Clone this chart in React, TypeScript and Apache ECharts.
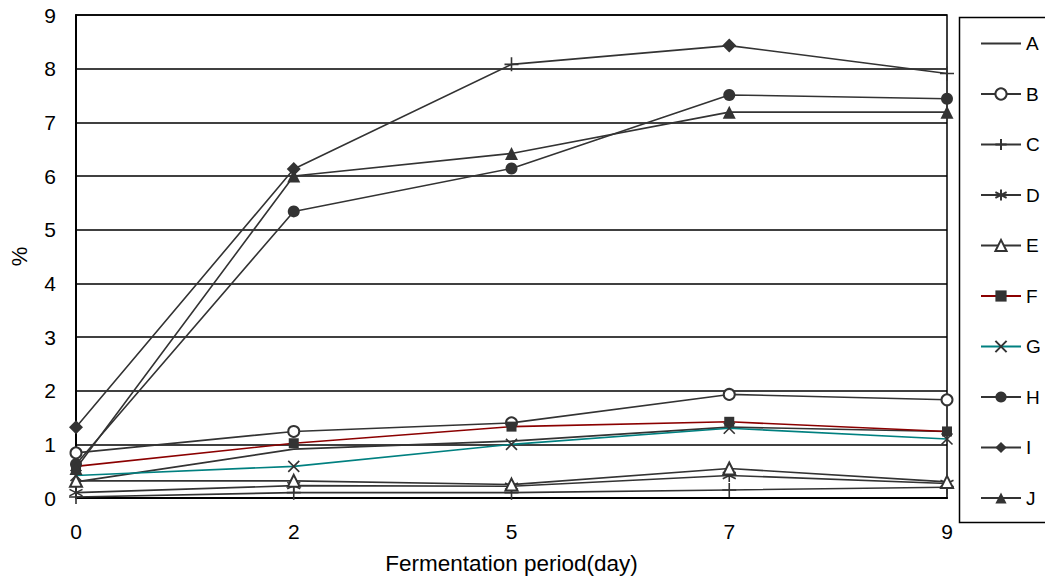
import React, { useEffect, useRef } from "react";
import * as echarts from "echarts";

const days = ["0", "2", "5", "7", "9"];
const seriesNames = ["A", "B", "C", "D", "E", "F", "G", "H", "I", "J"];
const aVals = [0.3, 0.91, 1.06, 1.32, 1.24];
const bVals = [0.84, 1.24, 1.4, 1.93, 1.83];
const cVals = [0.02, 0.1, 0.1, 0.15, 0.2];
const dVals = [0.1, 0.23, 0.22, 0.42, 0.27];
const eVals = [0.32, 0.32, 0.25, 0.55, 0.3];
const fVals = [0.59, 1.02, 1.33, 1.42, 1.24];
const gVals = [0.42, 0.59, 1.0, 1.3, 1.1];
const hVals = [0.63, 5.34, 6.14, 7.51, 7.44];
const iVals = [1.32, 6.13, 8.08, 8.43, 7.91];
const jVals = [0.55, 6.0, 6.42, 7.19, 7.19];
const yTicks = [0, 1, 2, 3, 4, 5, 6, 7, 8, 9];

const PLUS = "path://M5,0L5,10M0,5L10,5";
const STAR = "path://M5,0L5,10M0.7,2.5L9.3,7.5M0.7,7.5L9.3,2.5";
const CROSS = "path://M0,0L10,10M0,10L10,0";

const DARK = "#333333";

export default function App() {
  const ref = useRef<HTMLDivElement>(null);
  useEffect(() => {
    if (!ref.current) return;
    const chart = echarts.init(ref.current, null, { renderer: "svg" });
    const font = "Liberation Sans, Arial, sans-serif";

    const mk = (
      name: string,
      data: any[],
      symbol: string,
      size: number,
      opts: any = {}
    ) => ({
      name,
      type: "line",
      data,
      symbol,
      symbolSize: size,
      showSymbol: symbol !== "none",
      lineStyle: { color: opts.lineColor || DARK, width: 1.6 },
      itemStyle: {
        color: DARK,
        borderColor: DARK,
        borderWidth: opts.bw ?? 0,
      },
      z: opts.z || 2,
    });

    // I series: markers at day 5 and 9 are drawn as "+" in the reference
    const iData = iVals.map((v, k) =>
      k === 2 || k === 4
        ? { value: v, symbol: PLUS, symbolSize: 14, itemStyle: { borderWidth: 1.6, color: DARK, borderColor: DARK } }
        : v
    );

    const legendData = seriesNames.map((n) =>
      n === "A" ? { name: n, itemStyle: { opacity: 0 } } : { name: n }
    );

    const option: any = {
      animation: false,
      textStyle: { fontFamily: font },
      grid: {
        left: 75,
        right: 98,
        top: 15,
        bottom: 90,
        show: true,
        borderColor: "#000",
        borderWidth: 1.5,
      },
      legend: {
        orient: "vertical",
        left: 975,
        top: 29,
        itemGap: 31.5,
        itemWidth: 40,
        itemHeight: 14,
        data: legendData,
        textStyle: { fontSize: 19, color: "#000", fontFamily: font },
      },
      graphic: [
        {
          type: "rect",
          left: 957,
          top: 15,
          shape: { x: 0, y: 0, width: 100, height: 505 },
          style: { fill: "none", stroke: "#000", lineWidth: 1.5 },
          silent: true,
        },
      ],
      xAxis: {
        type: "category",
        data: days,
        boundaryGap: false,
        name: "Fermentation period(day)",
        nameLocation: "middle",
        nameGap: 54,
        nameTextStyle: { fontSize: 22.5, color: "#000", fontFamily: font },
        axisLine: { lineStyle: { color: "#000", width: 2 } },
        axisTick: { show: false },
        axisLabel: { fontSize: 21, color: "#000", margin: 23, fontFamily: font },
        splitLine: { show: false },
      },
      yAxis: {
        type: "value",
        min: yTicks[0],
        max: yTicks[yTicks.length - 1],
        interval: 1,
        name: "%",
        nameLocation: "middle",
        nameGap: 46,
        nameTextStyle: { fontSize: 22, color: "#000", fontFamily: font },
        axisLine: { show: true, lineStyle: { color: "#000", width: 2 } },
        axisTick: { show: false },
        axisLabel: { fontSize: 21, color: "#000", margin: 20, fontFamily: font },
        splitLine: { show: true, lineStyle: { color: "#000", width: 1.5 } },
      },
      series: [
        mk("A", aVals, "none", 0),
        mk("B", bVals, "emptyCircle", 11),
        mk("C", cVals, PLUS, 14, { bw: 1.6 }),
        mk("D", dVals, STAR, 13, { bw: 1.6 }),
        mk("E", eVals, "emptyTriangle", 12),
        mk("F", fVals, "rect", 10, { lineColor: "#8b0000" }),
        mk("G", gVals, CROSS, 11, { lineColor: "#008080", bw: 1.6 }),
        mk("H", hVals, "circle", 12),
        mk("I", iData, "diamond", 14),
        mk("J", jVals, "triangle", 13),
      ],
    };
    chart.setOption(option);
    return () => chart.dispose();
  }, []);
  return (
    <div
      ref={ref}
      style={{ position: "fixed", left: 0, top: 0, width: 1045, height: 588, background: "#fff" }}
    />
  );
}
